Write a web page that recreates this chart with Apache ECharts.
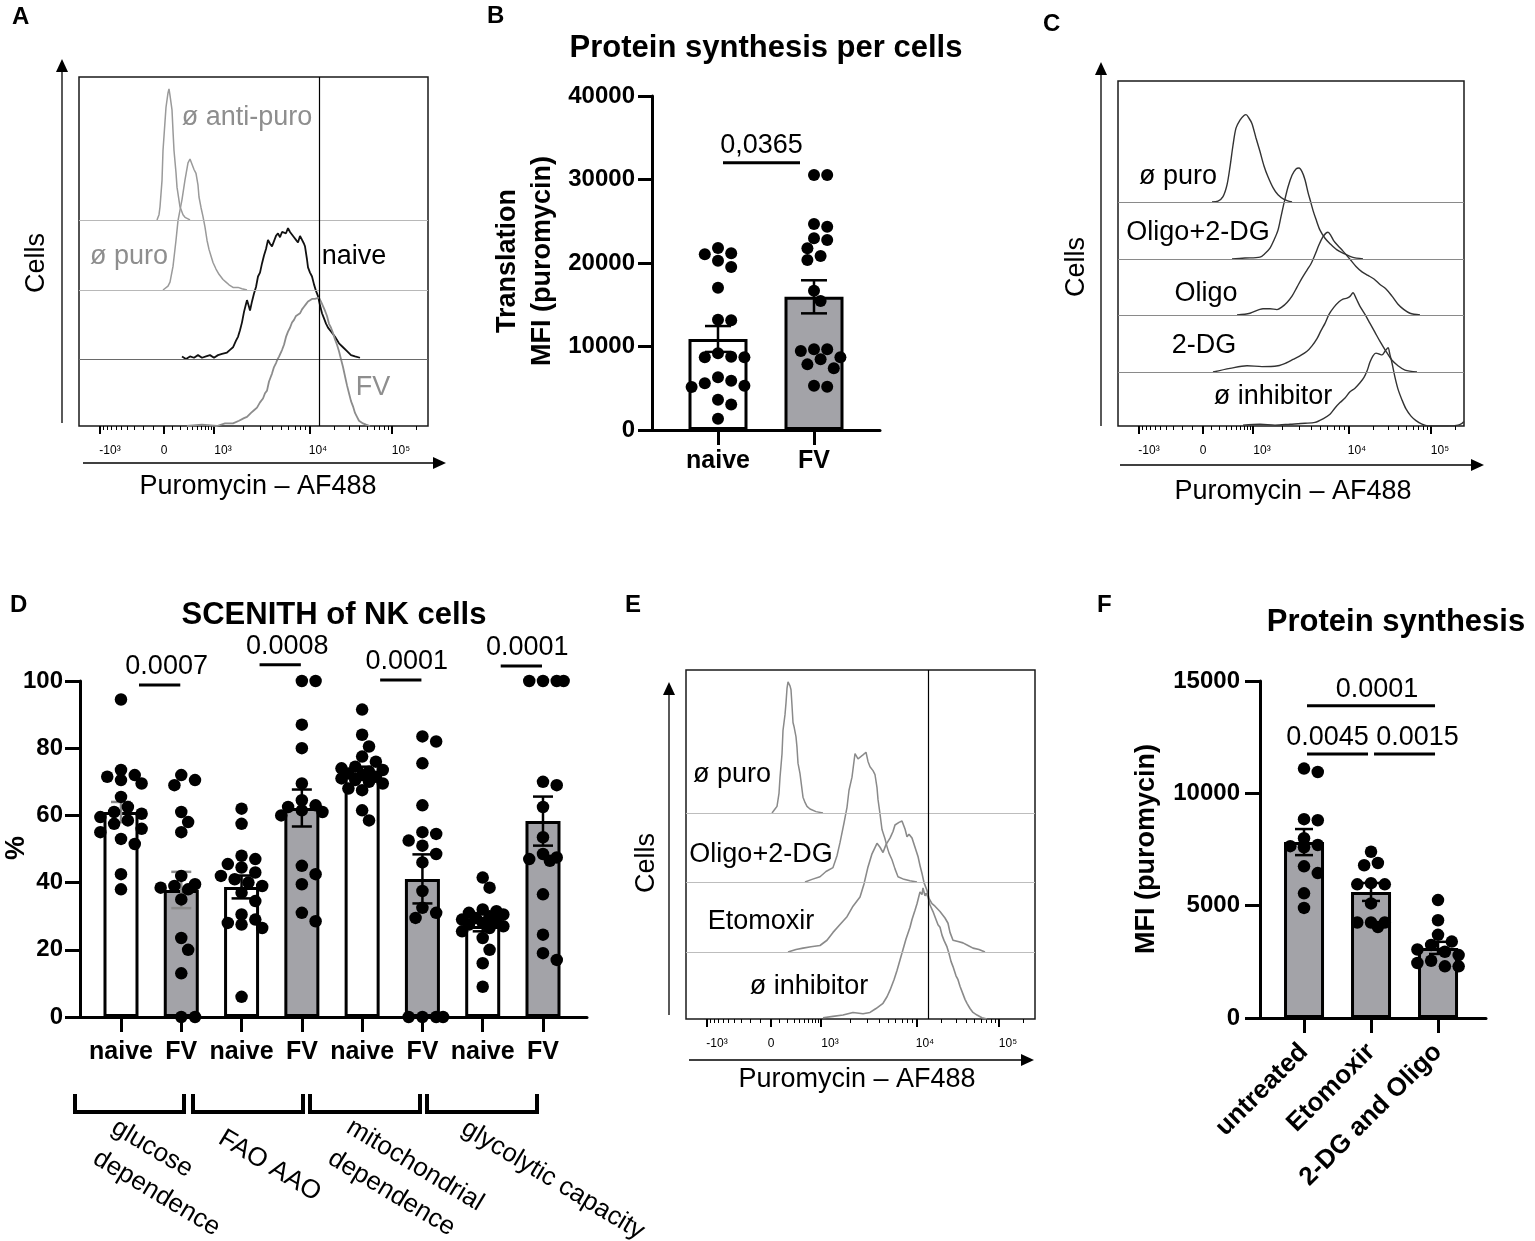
<!DOCTYPE html>
<html><head><meta charset="utf-8">
<script src="https://cdn.jsdelivr.net/npm/echarts@6/dist/echarts.min.js"></script>
<style>html,body{margin:0;padding:0;background:#fff}#c{width:1535px;height:1241px}</style>
</head><body><div id="c"></div>
<script>
// ===================== DATA =====================
// Flow-cytometry display: x in display channel units, y in % of mode
const histTickLabels = ['-10³', '0', '10³', '10⁴', '10⁵'];
const histTickChannels = [21, 85, 135, 231, 313];
const histAxisTitle = 'Puromycin – AF488';
const histYTitle = 'Cells';

// Panel A
const histA_names = ['ø anti-puro', 'ø puro', 'naive', 'FV'];
const histA_antiPuro = [[78,0],[80,4],[81,10],[83,30],[84,53],[86,75],[87,86],[89,97],[90,100],[91,95],[93,84],[94,68],[95,53],[97,36],[98,25],[100,15],[101,10],[104,4],[106,2],[111,0]];
const histA_puro = [[84,0],[86,1],[89,3],[91,6],[94,18],[97,38],[99,53],[103,69],[106,84],[109,97],[111,100],[113,96],[115,92],[117,89],[119,80],[120,71],[122,63],[124,56],[126,48],[128,38],[130,31],[132,26],[134,21],[137,16],[140,12],[144,8],[147,6],[150,4],[154,2],[159,2],[163,1],[168,0]];
const histA_naive = [[103,2],[107,0],[111,2],[115,1],[119,3],[123,1],[127,2],[131,3],[135,1],[139,3],[143,4],[148,5],[151,7],[154,9],[157,14],[159,17],[161,22],[163,28],[165,36],[167,42],[168,45],[170,40],[171,37],[173,44],[175,50],[177,55],[179,63],[181,66],[183,73],[185,79],[187,84],[189,91],[191,88],[193,86],[195,90],[197,94],[199,96],[201,93],[203,97],[205,98],[207,96],[209,100],[211,97],[213,97],[215,93],[217,91],[219,89],[221,94],[223,95],[225,88],[226,86],[228,76],[229,70],[231,66],[233,63],[235,57],[237,52],[239,48],[241,41],[243,35],[245,31],[247,27],[249,24],[252,21],[256,17],[260,12],[264,9],[268,6],[272,3],[276,2],[281,1]];
const histA_FV = [[108,0],[123,1],[138,0],[146,2],[154,2],[160,4],[165,6],[168,7],[172,10],[175,12],[178,14],[181,18],[184,21],[186,25],[188,27],[190,34],[192,38],[193,40],[195,45],[197,48],[198,50],[200,53],[203,58],[205,62],[207,68],[209,72],[211,75],[213,79],[215,81],[217,84],[219,83],[221,86],[223,89],[225,91],[227,93],[229,95],[231,94],[233,97],[234,98],[236,97],[238,96],[240,98],[242,95],[244,95],[246,88],[248,84],[250,78],[252,75],[254,71],[256,66],[258,62],[260,57],[262,51],[264,45],[266,38],[268,31],[270,25],[272,19],[274,15],[276,10],[278,7],[280,4],[284,2],[287,1],[291,0]];
const histA_gate = 240;

// Panel C
const histC_names = ['ø puro', 'Oligo+2-DG', 'Oligo', '2-DG', 'ø inhibitor'];
const histC_noPuro = [[94,0],[100,1],[105,6],[109,19],[112,39],[115,63],[118,82],[122,91],[126,96],[128,97],[131,93],[134,87],[138,71],[142,56],[146,40],[150,28],[155,16],[160,8],[166,3],[174,0]];
const histC_oligo2DG = [[114,0],[127,1],[142,2],[147,6],[152,12],[156,21],[160,32],[163,47],[166,62],[170,80],[174,93],[178,100],[181,101],[184,97],[187,88],[190,74],[192,66],[195,54],[198,44],[202,32],[207,23],[212,17],[219,10],[226,6],[234,2],[245,0]];
const histC_oligo = [[119,0],[132,2],[145,7],[152,7],[159,6],[164,9],[169,14],[174,21],[179,31],[184,41],[189,50],[193,57],[197,67],[201,78],[205,87],[208,91],[210,92],[213,88],[216,82],[220,77],[225,71],[232,62],[238,54],[244,48],[250,44],[256,40],[262,34],[268,29],[274,21],[280,12],[286,6],[292,2],[302,0]];
const histC_2DG = [[95,0],[112,4],[129,7],[144,6],[160,7],[168,10],[175,14],[182,18],[189,23],[194,29],[199,37],[203,46],[207,54],[211,64],[216,72],[221,78],[225,81],[229,82],[232,84],[235,88],[238,82],[242,73],[247,64],[252,54],[257,44],[262,34],[268,23],[274,13],[280,7],[287,2],[299,0]];
const histC_noInhib = [[125,1],[142,2],[157,1],[172,2],[187,3],[197,4],[205,8],[212,13],[217,20],[222,26],[227,31],[232,38],[237,42],[242,48],[246,54],[249,61],[252,71],[255,78],[258,81],[261,80],[264,79],[267,83],[270,87],[272,79],[274,70],[277,54],[280,41],[284,29],[288,19],[293,11],[298,6],[304,2],[310,0],[330,0],[340,1],[344,3],[346,5]];

// Panel E
const histE_names = ['ø puro', 'Oligo+2-DG', 'Etomoxir', 'ø inhibitor'];
const histE_noPuro = [[86,0],[89,3],[91,5],[93,15],[94,27],[96,45],[97,63],[99,75],[100,84],[101,95],[102,100],[104,97],[105,94],[106,82],[107,69],[108,66],[110,58],[111,50],[112,38],[114,30],[116,18],[117,12],[119,8],[121,5],[124,3],[126,2],[130,1],[137,0]];
const histE_oligo2DG = [[119,0],[126,2],[134,4],[140,8],[147,11],[151,20],[154,30],[158,45],[161,57],[163,70],[166,80],[168,92],[169,98],[172,94],[174,93],[177,97],[180,99],[182,92],[184,88],[187,85],[189,82],[191,72],[192,63],[194,52],[196,40],[199,33],[201,27],[203,22],[206,17],[209,10],[212,4],[218,2],[224,1],[231,0]];
const histE_etomoxir = [[102,0],[110,2],[117,3],[125,4],[134,5],[141,9],[147,15],[154,21],[161,27],[167,35],[174,42],[178,52],[182,65],[186,75],[191,83],[194,80],[197,76],[200,82],[204,87],[207,92],[209,97],[213,99],[216,100],[219,94],[221,88],[223,90],[226,87],[229,80],[232,73],[234,66],[236,60],[238,53],[241,47],[243,41],[246,37],[249,35],[251,34],[254,31],[256,30],[259,26],[262,22],[264,15],[267,9],[272,8],[277,7],[282,5],[287,3],[293,2],[299,0]];
const histE_noInhib = [[137,1],[147,2],[157,3],[167,5],[177,4],[184,5],[190,8],[197,12],[201,17],[204,22],[208,30],[211,37],[214,45],[217,53],[220,61],[224,70],[226,76],[229,83],[231,88],[234,97],[236,95],[237,100],[239,94],[240,96],[242,93],[244,87],[247,82],[250,76],[252,72],[254,70],[256,64],[258,60],[261,55],[263,50],[265,44],[267,40],[270,33],[272,30],[274,25],[277,19],[279,15],[281,12],[284,8],[287,5],[291,3],[296,1],[301,0]];
const histE_gate = 242;

// Panel B
const titleB = 'Protein synthesis per cells';
const yTitleB = 'Translation\nMFI (puromycin)';
const catsB = ['naive', 'FV'];
const dotsB_naive = [21040,21160,21800,20280,19520,17050,13130,13210,8700,8780,9180,8700,6310,5910,5150,5310,5590,3630,3040,1360];
const dotsB_FV = [30540,30540,24670,24350,22950,22750,21760,20360,20840,16690,15450,9460,9660,9660,8460,8700,7860,7390,5190,5310];
const meanB = [10900, 15950];
const semB = [1550, 1980];
const sigB = [[0, 1, 32000, '0,0365']];

// Panel D
const titleD = 'SCENITH of NK cells';
const yTitleD = '%';
const catsD = ['naive','FV','naive','FV','naive','FV','naive','FV'];
const groupsD = ['glucose\ndependence', 'FAO AAO', 'mitochondrial\ndependence', 'glycolytic capacity'];
const dotsD_glucNaive = [94.5,73.5,72,71.5,70.5,69.5,65.5,62.5,61,60.5,59.5,58.5,57.5,56,55,53,51.5,42.5,38];
const dotsD_glucFV = [72,70.5,69,61,58,55,42,39.5,39,38.5,38,35,23.5,20,13,0,0];
const dotsD_faoNaive = [62,57.5,48,47,45.5,44.5,43,42,41,40,39,37,34.5,30.5,29,28,27.5,26.5,6];
const dotsD_faoFV = [100,100,87,80,69.5,64.5,63,62.5,61.5,61,60,45,42.5,39.5,31,28.5];
const dotsD_mitoNaive = [91.5,84,80.5,77.5,76,74.5,74,73.5,73,72.5,72,71.5,71,70.5,70,69.5,68,67.5,61.5,58.5];
const dotsD_mitoFV = [83.5,82,75.5,63,55,54.5,52.5,51,48.5,46,37.5,32.5,31,29.5,0,0,0,0];
const dotsD_glycoNaive = [41.5,38.5,32,31.5,31,30.5,30,29.5,29,28.5,28,27.5,27,26.5,25.5,23.5,20,16,9];
const dotsD_glycoFV = [100,100,100,100,70,69,62.5,53.5,48.5,47.5,47,46.5,36.5,24.5,19,17];
const meanD = [61.0, 37.8, 38.7, 62.2, 72.6, 41.1, 27.1, 58.3];
const semD = [3.0, 5.4, 3.4, 5.5, 1.9, 7.3, 1.6, 7.3];
const sigD = [[0,1,98.8,'0.0007'],[2,3,104.8,'0.0008'],[4,5,100.3,'0.0001'],[6,7,104.5,'0.0001']];

// Panel F
const titleF = 'Protein synthesis';
const yTitleF = 'MFI (puromycin)';
const catsF = ['untreated', 'Etomoxir', '2-DG and Oligo'];
const dotsF_untreated = [11100,10950,8850,8800,8000,7700,7650,7600,6750,6450,5550,4900];
const dotsF_etomoxir = [7400,6900,6800,5950,6000,5950,5100,4250,4250,4250,4050];
const dotsF_2dgOligo = [5250,4350,3700,3400,3250,3050,2950,2800,2550,2450,2300,2300];
const meanF = [7830, 5610, 3120];
const semF = [580, 400, 270];
const sigF = [[0,2,13900,'0.0001'],[0,1,11750,'0.0045'],[1,2,11750,'0.0015']];

// ===================== LAYOUT / STYLE =====================
const FONT = '"Liberation Sans", Arial, Helvetica, "DejaVu Sans", sans-serif';
const GREY_FILL = '#a3a3a8';
const HIST_LABEL_POS = [31, 85, 144, 239, 322];

const grids = [], xAxes = [], yAxes = [], series = [], graphics = [];

function histMinor(M) {
  const [n3, z, p3, p4, p5] = M, out = [];
  [0.17,0.33,0.46,0.57,0.67,0.75,0.83,0.89,0.95].forEach(t => { out.push(z + t*(p3-z)); out.push(z - t*(z-n3)); });
  for (let m = 2; m <= 9; m++) { const l = Math.log10(m); out.push(p3 + l*(p4-p3)); out.push(p4 + l*(p5-p4)); }
  out.push(p5 + Math.log10(2)*(p5-p4));
  return out.map(v => Math.round(v*10)/10);
}

function addHist(p) {
  const g = grids.length;
  grids.push({left:p.left, top:p.top, width:p.width, height:p.height, show:true, borderColor:'#1a1a1a', borderWidth:1.5, backgroundColor:'transparent', outerBoundsMode:'none'});
  const xi = xAxes.length;
  xAxes.push({type:'value', gridIndex:g, position:'bottom', min:0, max:p.width, splitLine:{show:false}, axisLine:{show:false, onZero:false},
    axisTick:{show:true, customValues:histTickChannels, length:8, lineStyle:{color:'#000', width:2}},
    axisLabel:{show:true, customValues:HIST_LABEL_POS, margin:19, fontSize:12, color:'#000', fontFamily:FONT,
      formatter: v => histTickLabels[HIST_LABEL_POS.indexOf(v)]}});
  xAxes.push({type:'value', gridIndex:g, position:'bottom', min:0, max:p.width, splitLine:{show:false}, axisLine:{show:false, onZero:false},
    axisLabel:{show:false}, axisTick:{show:true, customValues:histMinor(histTickChannels), length:4, lineStyle:{color:'#000', width:1}}});
  p.curves.forEach((c, i) => {
    const yi = yAxes.length;
    const off = p.offsets[i];
    yAxes.push({type:'value', gridIndex:g, position:'left', min:-off, max:p.yRange - off, show:false, axisLine:{onZero:false}});
    const ml = [];
    if (off > 0) ml.push({yAxis:0, lineStyle:{color:p.baseColors[i], width:1.2, type:'solid'}});
    if (p.gate != null && i === p.curves.length - 1) ml.push({xAxis:p.gate, lineStyle:{color:'#000', width:1.2, type:'solid'}});
    series.push({type:'line', xAxisIndex:xi, yAxisIndex:yi, data:c, showSymbol:false, symbol:'none', smooth:p.smooth || false,
      lineStyle:{color:p.colors[i], width:p.widths[i]}, z:3, silent:true,
      markLine: ml.length ? {silent:true, symbol:['none','none'], label:{show:false}, animation:false, data:ml} : undefined});
  });
  p.names.forEach((n, i) => graphics.push(T(p.labelPos[i][0], p.labelPos[i][1], n, {size:27, color:p.labelColors[i]})));
}

function swarm(vals, pxPerY, pxPerX, d, maxK) {
  const order = vals.map((v, i) => i).sort((a, b) => vals[b] - vals[a]);
  const placed = [], offs = new Array(vals.length).fill(0), step = d * 0.55;
  order.forEach(i => {
    const y = vals[i] * pxPerY;
    let best = 0, bestScore = -1;
    const cands = [0];
    for (let k = 1; k <= maxK; k++) cands.push(k, -k);
    for (const k of cands) {
      const x = k * step;
      let minD = Infinity;
      for (const q of placed) { const dd = Math.hypot(q[0]-x, q[1]-y); if (dd < minD) minD = dd; }
      if (minD >= d * 0.95) { best = x; break; }
      if (minD > bestScore) { bestScore = minD; best = x; }
    }
    placed.push([best, y]); offs[i] = best / pxPerX;
  });
  return offs;
}

function addBars(p) {
  const g = grids.length;
  grids.push({left:p.left, top:p.top, width:p.width, height:p.height, show:false, outerBoundsMode:'none'});
  const xi = xAxes.length, yi = yAxes.length;
  const idx = p.cats.map((_, i) => i);
  xAxes.push({type:'value', gridIndex:g, position:'bottom', min:p.xMin, max:p.xMax, splitLine:{show:false},
    axisLine:{show:true, onZero:false, lineStyle:{color:'#000', width:3}},
    axisTick:{show:true, customValues:idx, length:15, lineStyle:{color:'#000', width:3}},
    axisLabel:{show:true, customValues:idx, margin:p.catMargin, rotate:p.catRotate || 0, fontSize:p.catSize, fontWeight:'bold', color:'#000', fontFamily:FONT,
      formatter: v => p.cats[Math.round(v)]}});
  yAxes.push({type:'value', gridIndex:g, position:'left', min:0, max:p.yMax, interval:p.interval, splitLine:{show:false},
    axisLine:{show:true, onZero:false, lineStyle:{color:'#000', width:3}},
    axisTick:{show:true, length:p.tickLen, lineStyle:{color:'#000', width:3}},
    axisLabel:{show:true, margin:p.yMargin, fontSize:24, fontWeight:'bold', color:'#000', fontFamily:FONT, formatter: v => String(v)}});
  series.push({type:'bar', xAxisIndex:xi, yAxisIndex:yi, barWidth:p.barW, z:2, silent:true,
    data:p.means.map((m, i) => ({value:[i, m], itemStyle:{color:p.fills[i], borderColor:'#000', borderWidth:3, opacity:1}}))});
  const capW = p.capW;
  series.push({type:'custom', xAxisIndex:xi, yAxisIndex:yi, z:3, silent:true, clip:false,
    data:p.means.map((m, i) => [i, m - p.sem[i], m + p.sem[i]]),
    renderItem(params, api) {
      const x = api.value(0), lo = api.coord([x, api.value(1)]), hi = api.coord([x, api.value(2)]);
      const col = p.errColors ? p.errColors[params.dataIndex] : '#000';
      const st = {stroke:col, lineWidth:2.5};
      return {type:'group', children:[
        {type:'line', shape:{x1:lo[0], y1:lo[1], x2:hi[0], y2:hi[1]}, style:st},
        {type:'line', shape:{x1:hi[0]-capW/2, y1:hi[1], x2:hi[0]+capW/2, y2:hi[1]}, style:st},
        {type:'line', shape:{x1:lo[0]-capW/2, y1:lo[1], x2:lo[0]+capW/2, y2:lo[1]}, style:st}]};
    }});
  const pxPerY = p.height / p.yMax, pxPerX = p.width / (p.xMax - p.xMin);
  const pts = [];
  p.dots.forEach((arr, gi) => {
    const offs = swarm(arr, pxPerY, pxPerX, p.dotD, p.maxK);
    arr.forEach((v, k) => pts.push([gi + offs[k], v]));
  });
  series.push({type:'scatter', xAxisIndex:xi, yAxisIndex:yi, data:pts, symbol:'circle', symbolSize:p.dotD, itemStyle:{color:'#000', opacity:1}, z:4, clip:true, silent:true});
  series.push({type:'custom', xAxisIndex:xi, yAxisIndex:yi, z:6, clip:false, silent:true,
    data:p.sig.map(s => [s[0], s[2]]),
    renderItem(params, api) {
      const s = p.sig[params.dataIndex];
      const a = api.coord([s[0], s[2]]), b = api.coord([s[1], s[2]]);
      const x1 = a[0] + p.sigPadL, x2 = b[0] + p.sigPadR, y = a[1];
      const dx = p.sigTextDx ? p.sigTextDx[params.dataIndex] : 0;
      return {type:'group', children:[
        {type:'line', shape:{x1:x1, y1:y, x2:x2, y2:y}, style:{stroke:'#000', lineWidth:3}},
        {type:'text', style:{text:s[3], x:(x1+x2)/2 + dx, y:y - p.sigGap, align:'center', verticalAlign:'middle', fontSize:27, fontFamily:FONT, fill:'#000'}}]};
    }});
}

function T(x, y, text, o) {
  o = o || {};
  return {type:'text', x:x, y:y, rotation:o.rot || 0, silent:true, z:100,
    style:{text:text, fontSize:o.size || 27, fontWeight:o.bold ? 'bold' : 'normal', fontFamily:FONT, fill:o.color || '#000',
      align:o.align || 'center', verticalAlign:o.va || 'middle', lineHeight:o.lh}};
}
function arrowUp(x, yBottom, yTip) {
  graphics.push({type:'line', silent:true, z:100, shape:{x1:x, y1:yBottom, x2:x, y2:yTip + 10}, style:{stroke:'#000', lineWidth:1.3}});
  graphics.push({type:'polygon', silent:true, z:100, shape:{points:[[x-6, yTip+13], [x+6, yTip+13], [x, yTip]]}, style:{fill:'#000'}});
}
function arrowRight(xStart, xTip, y) {
  graphics.push({type:'line', silent:true, z:100, shape:{x1:xStart, y1:y, x2:xTip - 10, y2:y}, style:{stroke:'#000', lineWidth:1.3}});
  graphics.push({type:'polygon', silent:true, z:100, shape:{points:[[xTip-13, y-6], [xTip-13, y+6], [xTip, y]]}, style:{fill:'#000'}});
}

// ---------- Panel A ----------
addHist({left:79, top:77, width:349, height:349, yRange:266.4, offsets:[157.3, 103.8, 51.1, 0],
  curves:[histA_antiPuro, histA_puro, histA_naive, histA_FV],
  colors:['#9a9a9a', '#9a9a9a', '#111', '#8c8c8c'], widths:[1.5, 1.5, 1.8, 1.8],
  baseColors:['#b8b8b8', '#b8b8b8', '#6a6a6a', '#000'], gate:histA_gate,
  names:histA_names, labelPos:[[247,118],[129,257],[354,257],[373,388]], labelColors:['#8e8e8e','#8e8e8e','#000','#8e8e8e']});
arrowUp(62, 423, 59); arrowRight(83, 446, 463);
graphics.push(T(37, 263, histYTitle, {rot:Math.PI/2}));
graphics.push(T(258, 487, histAxisTitle));

// ---------- Panel C ----------
addHist({left:1118, top:81, width:346, height:345, yRange:383.3, offsets:[248.9, 185.6, 123.3, 60, 0], smooth:0.3,
  curves:[histC_noPuro, histC_oligo2DG, histC_oligo, histC_2DG, histC_noInhib],
  colors:['#333','#333','#333','#333','#333'], widths:[1.4,1.4,1.4,1.4,1.4],
  baseColors:['#8a8a8a','#8a8a8a','#8a8a8a','#8a8a8a','#000'], gate:null,
  names:histC_names, labelPos:[[1178,177],[1198,233],[1206,294],[1204,346],[1273,397]], labelColors:['#000','#000','#000','#000','#000']});
arrowUp(1101, 426, 62); arrowRight(1120, 1484, 465);
graphics.push(T(1077, 267, histYTitle, {rot:Math.PI/2}));
graphics.push(T(1293, 492, histAxisTitle));

// ---------- Panel E ----------
addHist({left:686, top:670, width:349, height:349, yRange:266.4, offsets:[157.3, 104.6, 51.1, 0],
  curves:[histE_noPuro, histE_oligo2DG, histE_etomoxir, histE_noInhib],
  colors:['#8a8a8a','#8a8a8a','#8a8a8a','#8a8a8a'], widths:[1.5,1.5,1.6,1.6],
  baseColors:['#bdbdbd','#bdbdbd','#bdbdbd','#000'], gate:histE_gate,
  names:histE_names, labelPos:[[732,775],[761,855],[761,922],[809,987]], labelColors:['#000','#000','#000','#000']});
arrowUp(669, 1015, 682); arrowRight(689, 1034, 1060);
graphics.push(T(647, 863, histYTitle, {rot:Math.PI/2}));
graphics.push(T(857, 1080, histAxisTitle));

// ---------- Panel B ----------
addBars({left:652, top:96, width:228, height:334, xMin:-0.6875, xMax:1.6875, yMax:40000, interval:10000,
  cats:catsB, means:meanB, sem:semB, fills:['#fff', GREY_FILL], dots:[dotsB_naive, dotsB_FV], sig:sigB,
  barW:59, capW:26, dotD:12, maxK:5, tickLen:14, yMargin:17, catMargin:19, catSize:25,
  sigPadL:5, sigPadR:-14, sigGap:17});
graphics.push(T(766, 48, titleB, {size:31, bold:true}));
graphics.push(T(525, 261, yTitleB, {size:27, bold:true, rot:Math.PI/2, lh:35}));

// ---------- Panel D ----------
addBars({left:80, top:681, width:507, height:336, xMin:-0.68, xMax:7.73, yMax:100, interval:20,
  cats:catsD, means:meanD, sem:semD, fills:['#fff', GREY_FILL, '#fff', GREY_FILL, '#fff', GREY_FILL, '#fff', GREY_FILL],
  errColors:['#8a8a8a','#8a8a8a','#000','#000','#000','#000','#000','#000'],
  dots:[dotsD_glucNaive, dotsD_glucFV, dotsD_faoNaive, dotsD_faoFV, dotsD_mitoNaive, dotsD_mitoFV, dotsD_glycoNaive, dotsD_glycoFV],
  sig:sigD, barW:35, capW:20, dotD:12.5, maxK:3, tickLen:15, yMargin:17, catMargin:23, catSize:25,
  sigPadL:18, sigPadR:-1, sigGap:18, sigTextDx:[7,7,6,6]});
graphics.push(T(334, 615, titleD, {size:31, bold:true}));
graphics.push(T(17, 848, yTitleD, {size:27, bold:true, rot:Math.PI/2}));
const bracketsD = [[75,184],[193,303],[310,420],[427,537]];
const groupLabelPosD = [[123,1110],[230,1121],[358,1110],[473,1111]];
bracketsD.forEach((b, i) => {
  graphics.push({type:'polyline', silent:true, z:100, shape:{points:[[b[0],1094],[b[0],1112],[b[1],1112],[b[1],1094]]}, style:{stroke:'#000', lineWidth:4, fill:null}});
  graphics.push(T(groupLabelPosD[i][0], groupLabelPosD[i][1], groupsD[i], {size:26, rot:-31*Math.PI/180, align:'left', va:'top', lh:36}));
});

// ---------- Panel F ----------
addBars({left:1260, top:681, width:226, height:337, xMin:-0.657, xMax:2.716, yMax:15000, interval:5000,
  cats:catsF, means:meanF, sem:semF, fills:[GREY_FILL, GREY_FILL, GREY_FILL], dots:[dotsF_untreated, dotsF_etomoxir, dotsF_2dgOligo],
  sig:sigF, barW:40, capW:18, dotD:12.5, maxK:3, tickLen:15, yMargin:20, catMargin:30, catSize:26, catRotate:45,
  sigPadL:3, sigPadR:-3, sigGap:16, sigTextDx:[6,-10,13]});
graphics.push(T(1396, 622, titleF, {size:31, bold:true}));
graphics.push(T(1147, 849, yTitleF, {size:27, bold:true, rot:Math.PI/2}));

// ---------- Panel letters ----------
[['A',12,17],['B',487,16],['C',1043,24],['D',10,605],['E',625,605],['F',1097,605]].forEach(l =>
  graphics.push(T(l[1], l[2], l[0], {size:24, bold:true, align:'left'})));

const chart = echarts.init(document.getElementById('c'), null, {renderer:'canvas'});
chart.setOption({animation:false, backgroundColor:'#fff', textStyle:{fontFamily:FONT},
  grid:grids, xAxis:xAxes, yAxis:yAxes, series:series, graphic:{elements:graphics}});
</script>
</body></html>
